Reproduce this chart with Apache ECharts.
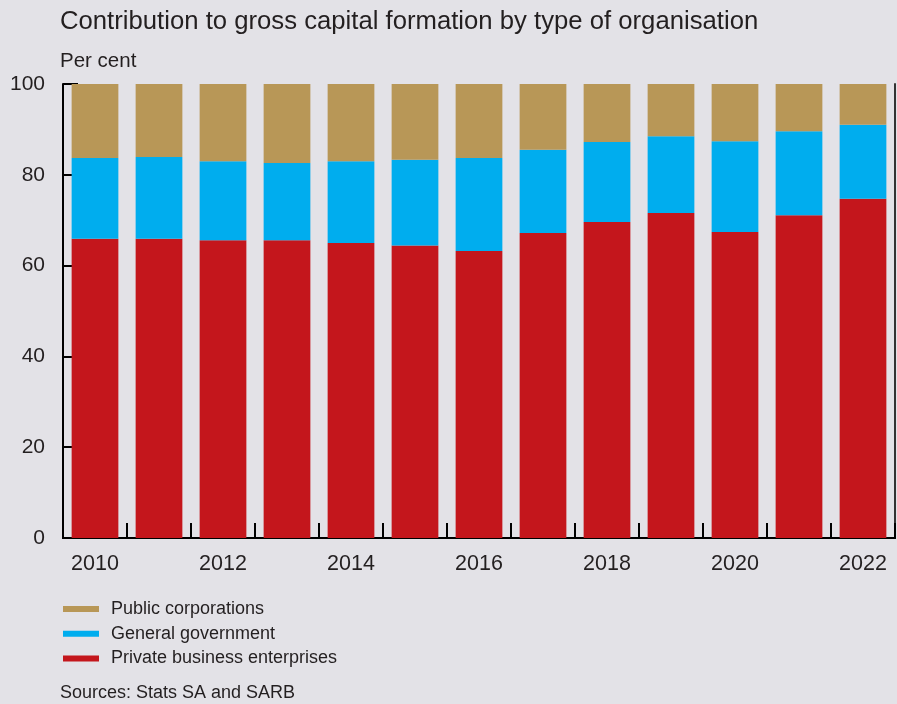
<!DOCTYPE html>
<html>
<head>
<meta charset="utf-8">
<script src="https://cdn.jsdelivr.net/npm/echarts@6/dist/echarts.min.js"></script>
<style>
  html, body { margin: 0; padding: 0; background: #e3e2e7; }
  #chart { width: 897px; height: 704px; }
</style>
</head>
<body>
<div id="chart"></div>
<script>
// Years on the category axis
const years = ['2010', '2011', '2012', '2013', '2014', '2015', '2016', '2017', '2018', '2019', '2020', '2021', '2022'];
// Share of gross capital formation, per cent
const privateBusiness = [65.9, 65.9, 65.6, 65.6, 65.0, 64.4, 63.2, 67.2, 69.6, 71.6, 67.4, 71.1, 74.7];
const generalGovernment = [17.8, 18.0, 17.4, 17.0, 18.0, 18.9, 20.5, 18.3, 17.6, 16.9, 20.0, 18.5, 16.3];
const publicCorporations = [16.3, 16.1, 17.0, 17.4, 17.0, 16.7, 16.3, 14.5, 12.8, 11.5, 12.6, 10.4, 9.0];
const yTicks = [0, 20, 40, 60, 80, 100];

const FONT = '"Liberation Sans", Arial, sans-serif';
const TXT = '#231f20';

const chart = echarts.init(document.getElementById('chart'));

function barSeries(name, data, color) {
  return {
    name, type: 'bar', stack: 'total', data,
    barCategoryGap: '27%',
    itemStyle: { color },
    emphasis: { disabled: true }
  };
}

chart.setOption({
  backgroundColor: '#e3e2e7',
  animation: false,
  textStyle: { fontFamily: FONT },
  title: [
    { text: 'Contribution to gross capital formation by type of organisation', left: 60, top: 9, padding: 0,
      textStyle: { fontFamily: FONT, fontSize: 25.7, fontWeight: 'normal', color: TXT } },
    { text: 'Per cent', left: 60, top: 51, padding: 0,
      textStyle: { fontFamily: FONT, fontSize: 20.5, fontWeight: 'normal', color: TXT } },
    { text: 'Sources: Stats SA and SARB', left: 60, top: 684, padding: 0,
      textStyle: { fontFamily: FONT, fontSize: 18, fontWeight: 'normal', color: TXT } }
  ],
  grid: { left: 63, right: 2, top: 84, bottom: 166, containLabel: false },
  legend: {
    orient: 'vertical', left: 63, top: 600, padding: 0,
    data: ['Public corporations', 'General government', 'Private business enterprises'],
    icon: 'rect', itemWidth: 36, itemHeight: 6, itemGap: 6.7,
    textStyle: { fontFamily: FONT, fontSize: 18, color: TXT, padding: [0, 0, 0, 7] },
    selectedMode: false
  },
  xAxis: [
    {
      type: 'category', data: years, position: 'bottom',
      axisLine: { lineStyle: { color: '#000', width: 2 } },
      axisTick: { show: true, inside: true, length: 15, interval: 0, lineStyle: { color: '#000', width: 2 } },
      axisLabel: { interval: 1, margin: 15, fontFamily: FONT, fontSize: 21.5, color: TXT }
    },
    {
      type: 'category', data: years, position: 'top',
      axisLine: { lineStyle: { color: '#000', width: 2 } },
      axisTick: { show: false }, axisLabel: { show: false }
    }
  ],
  yAxis: [
    {
      type: 'value', min: yTicks[0], max: yTicks[yTicks.length - 1], interval: 20,
      axisLine: { show: true, lineStyle: { color: '#000', width: 2 } },
      axisTick: { show: true, inside: true, length: 15, lineStyle: { color: '#000', width: 2 } },
      axisLabel: { margin: 18, fontFamily: FONT, fontSize: 21, color: TXT },
      splitLine: { show: false }
    },
    {
      type: 'value', min: 0, max: 100, position: 'right',
      axisLine: { show: true, lineStyle: { color: '#333', width: 2 } },
      axisTick: { show: false }, axisLabel: { show: false }, splitLine: { show: false }
    }
  ],
  series: [
    barSeries('Private business enterprises', privateBusiness, '#c4161c'),
    barSeries('General government', generalGovernment, '#00adee'),
    barSeries('Public corporations', publicCorporations, '#b89757')
  ]
});
</script>
</body>
</html>
